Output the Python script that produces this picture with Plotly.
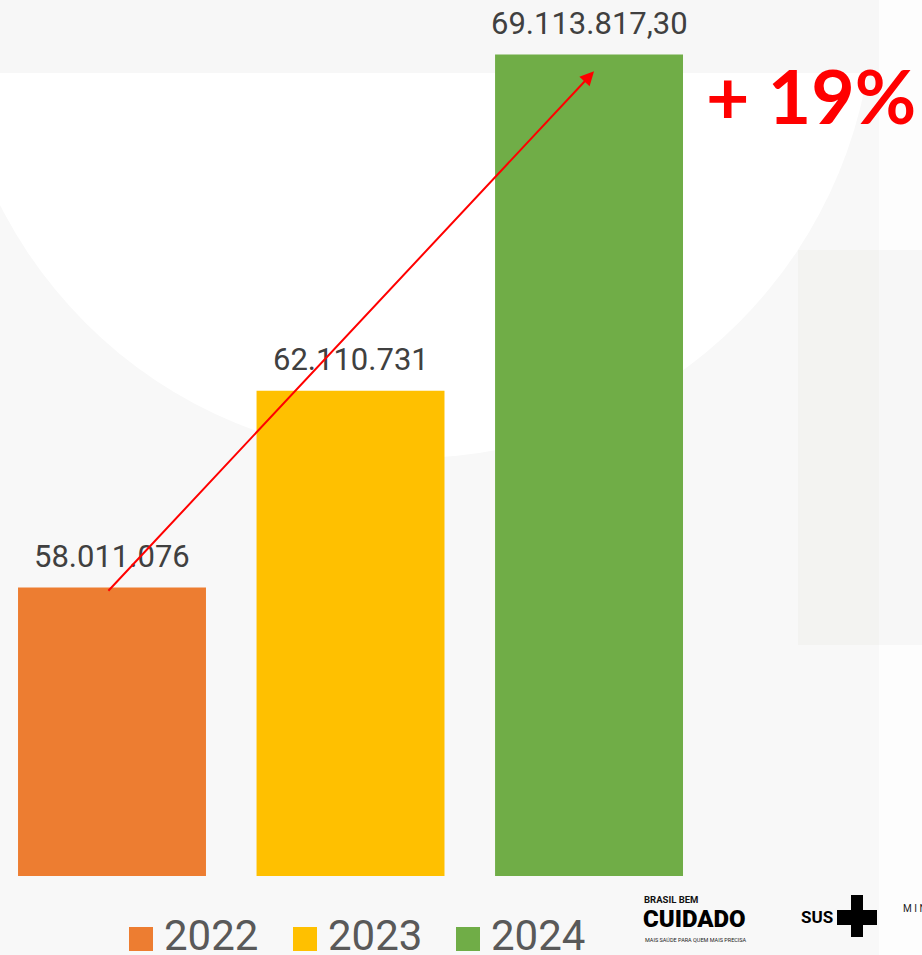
import plotly.graph_objects as go

# ---- data ----
years = ["2022", "2023", "2024"]
values = [58011076, 62110731, 69113817.30]
value_labels = ["58.011.076", "62.110.731", "69.113.817,30"]
colors = ["#ED7D31", "#FFC000", "#70AD47"]
growth_label = "+ 19%"

# ---- geometry helpers (figure pixels -> paper coords) ----
W, H = 922, 955
PLOT_BOTTOM = 876


def px(x):
    return x / W


def py(y):
    return (PLOT_BOTTOM - y) / PLOT_BOTTOM


fig = go.Figure()
fig.add_trace(go.Bar(
    x=years, y=values, marker_color=colors, marker_line_width=0,
    width=0.788, showlegend=False, hoverinfo="skip",
))

shapes = []
# background decoration
shapes.append(dict(type="circle", xref="paper", yref="paper", layer="below",
                   x0=px(-50), x1=px(874), y0=py(458), y1=py(-466),
                   fillcolor="#ffffff", line_width=0))
shapes.append(dict(type="rect", xref="paper", yref="paper", layer="below",
                   x0=px(0), x1=px(879), y0=py(73), y1=py(0),
                   fillcolor="#f7f7f7", line_width=0))
shapes.append(dict(type="rect", xref="paper", yref="paper", layer="below",
                   x0=px(879), x1=px(922), y0=py(955), y1=py(0),
                   fillcolor="#fdfdfd", line_width=0))
shapes.append(dict(type="rect", xref="paper", yref="paper", layer="below",
                   x0=px(798), x1=px(879), y0=py(645), y1=py(250),
                   fillcolor="#f3f3f1", line_width=0))
shapes.append(dict(type="rect", xref="paper", yref="paper", layer="below",
                   x0=px(879), x1=px(922), y0=py(645), y1=py(250),
                   fillcolor="#f7f7f7", line_width=0))

annotations = []
# value labels above bars
for i, (v, lab) in enumerate(zip(values, value_labels)):
    annotations.append(dict(x=i, y=v, xref="x", yref="y", text=lab, showarrow=False,
                            yanchor="middle", yshift=31,
                            font=dict(family="Roboto", size=31, color="#404040")))

# growth arrow from first bar to last bar
annotations.append(dict(
    x=2.021, y=values[2] - 0.35e6, ax=-0.021, ay=values[0] - 0.1e6,
    xref="x", yref="y", axref="x", ayref="y", text="",
    showarrow=True, arrowhead=2, arrowsize=1.4, arrowwidth=2,
    arrowcolor="#ff0000", standoff=0, startstandoff=0,
))
annotations.append(dict(
    x=px(811), y=py(95), xref="paper", yref="paper", text=growth_label,
    showarrow=False, xanchor="center", yanchor="middle",
    font=dict(family="Lato", size=75, color="#ff0000", weight="bold"),
))

# manual legend
leg_sq_x = [129, 293, 456]
for yr, c, sx in zip(years, colors, leg_sq_x):
    shapes.append(dict(type="rect", xref="paper", yref="paper",
                       x0=px(sx), x1=px(sx + 24), y0=py(951), y1=py(927),
                       fillcolor=c, line_width=0))
    annotations.append(dict(x=px(sx + 33), y=py(935), xref="paper", yref="paper",
                            text=yr, showarrow=False, xanchor="left", yanchor="middle",
                            font=dict(family="Roboto", size=42, color="#595959")))

# logos (approximated with text)
annotations.append(dict(x=px(642), y=py(899), xref="paper", yref="paper",
                        text="BRASIL BEM", showarrow=False, xanchor="left", yanchor="middle",
                        font=dict(family="Roboto", size=9.5, color="#111111", weight="bold")))
annotations.append(dict(x=px(641), y=py(919), xref="paper", yref="paper",
                        text="CUIDADO", showarrow=False, xanchor="left", yanchor="middle",
                        font=dict(family="Roboto", size=24, color="#000000", weight=900)))
annotations.append(dict(x=px(643), y=py(940), xref="paper", yref="paper",
                        text="MAIS SAÚDE PARA QUEM MAIS PRECISA", showarrow=False,
                        xanchor="left", yanchor="middle",
                        font=dict(family="Roboto", size=5.5, color="#222222")))
annotations.append(dict(x=px(799), y=py(917), xref="paper", yref="paper",
                        text="SUS", showarrow=False, xanchor="left", yanchor="middle",
                        font=dict(family="Roboto", size=17, color="#000000", weight="bold")))
annotations.append(dict(x=px(901), y=py(908), xref="paper", yref="paper",
                        text="M I N", showarrow=False, xanchor="left", yanchor="middle",
                        font=dict(family="Roboto", size=10, color="#222222")))
shapes.append(dict(type="rect", xref="paper", yref="paper",
                   x0=px(851), x1=px(863), y0=py(937), y1=py(895),
                   fillcolor="#000000", line_width=0))
shapes.append(dict(type="rect", xref="paper", yref="paper",
                   x0=px(837), x1=px(877), y0=py(925), y1=py(910),
                   fillcolor="#000000", line_width=0))

fig.update_layout(
    width=W, height=H,
    margin=dict(l=0, r=0, t=0, b=H - PLOT_BOTTOM, pad=0),
    paper_bgcolor="#f8f8f8", plot_bgcolor="rgba(0,0,0,0)",
    xaxis=dict(type="category", range=[-0.4696, 3.396], showgrid=False, zeroline=False,
               showticklabels=False, showline=False, ticks=""),
    yaxis=dict(range=[52e6, 70.25e6], showgrid=False, zeroline=False,
               showticklabels=False, showline=False, ticks=""),
    shapes=shapes, annotations=annotations, showlegend=False,
)

fig.write_html("out.html", config={"displayModeBar": False},
               post_script="document.body.style.margin='0';document.body.style.padding='0';")
